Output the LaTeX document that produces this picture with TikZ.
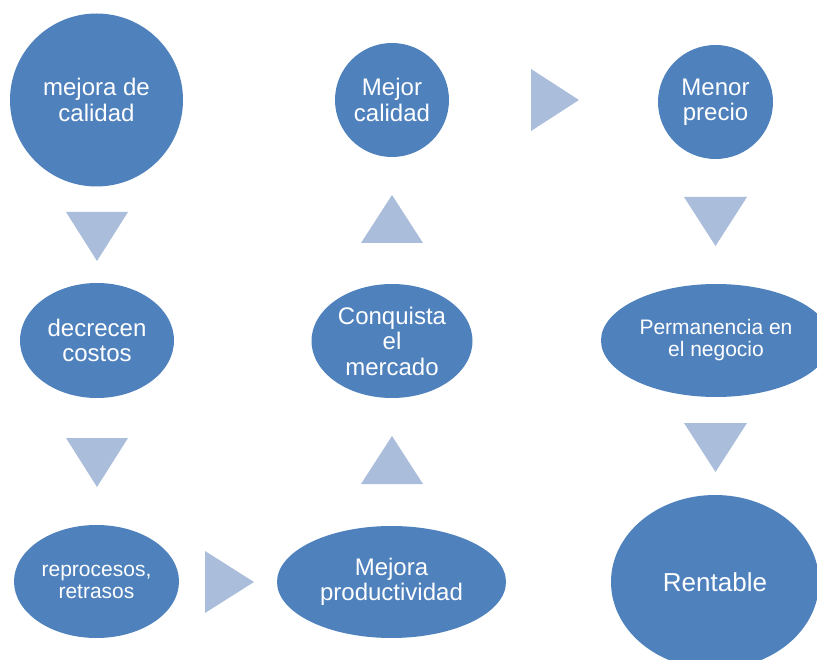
\documentclass[tikz,border=0pt]{standalone}
\usepackage{fontspec}
\setmainfont{Liberation Sans}
\usetikzlibrary{shapes.geometric}

\definecolor{bubble}{HTML}{4F81BD}
\definecolor{pointer}{HTML}{AABDDB}

\tikzset{
  bubble/.style={ellipse, fill=bubble, draw=none, inner sep=0pt,
    text=white, align=center,
    font=\fontsize{24}{25.5}\selectfont},
  smalltext/.style={font=\fontsize{21}{22}\selectfont},
  bigtext/.style={font=\fontsize{26}{28}\selectfont},
  pointer/.style={fill=pointer, draw=none}
}

\begin{document}
\begin{tikzpicture}[x=1pt, y=-1pt]
  \useasboundingbox (0,0) rectangle (817,660);
  \clip (0,0) rectangle (817,660);

  % left column
  \node[bubble, minimum width=173pt, minimum height=173pt] (calidad) at (96.5,100) {mejora de\\calidad};
  \node[bubble, minimum width=154pt, minimum height=115pt] (costos) at (97,340.5) {decrecen\\costos};
  \node[bubble, smalltext, minimum width=165pt, minimum height=113pt] (reproc) at (96.5,581.5) {reprocesos,\\retrasos};

  % middle column
  \node[bubble, minimum width=229pt, minimum height=112pt] (product) at (391.5,582) {Mejora\\productividad};
  \node[bubble, minimum width=161pt, minimum height=114pt] (mercado) at (392,341) {Conquista\\el\\mercado};
  \node[bubble, minimum width=114pt, minimum height=114pt] (mejor) at (392,100) {Mejor\\calidad};

  % right column; the "precio" bubble sits a little low so its text lines up with "Mejor calidad"
  \node[bubble, minimum width=115pt, minimum height=114pt] (precio) at (715.5,102) {Menor\\precio};
  \node[bubble, smalltext, minimum width=230pt, minimum height=113pt] (perman) at (716,340.5) {Permanencia en\\el negocio};
  \node[bubble, bigtext, minimum width=208pt, minimum height=174pt] (rentable) at (715,582) {Rentable};

  % flow pointers
  \fill[pointer] (66,212) -- (128,212) -- (97,261) -- cycle;
  \fill[pointer] (66,438) -- (128,438) -- (97,487) -- cycle;
  \fill[pointer] (205,551) -- (205,613) -- (254,582) -- cycle;
  \fill[pointer] (361,484) -- (423,484) -- (392,436) -- cycle;
  \fill[pointer] (361,243) -- (423,243) -- (392,195) -- cycle;
  \fill[pointer] (531,69) -- (531,131) -- (579,100) -- cycle;
  \fill[pointer] (684,197) -- (747,197) -- (715.5,246) -- cycle;
  \fill[pointer] (684,423) -- (747,423) -- (715.5,472) -- cycle;
\end{tikzpicture}
\end{document}
